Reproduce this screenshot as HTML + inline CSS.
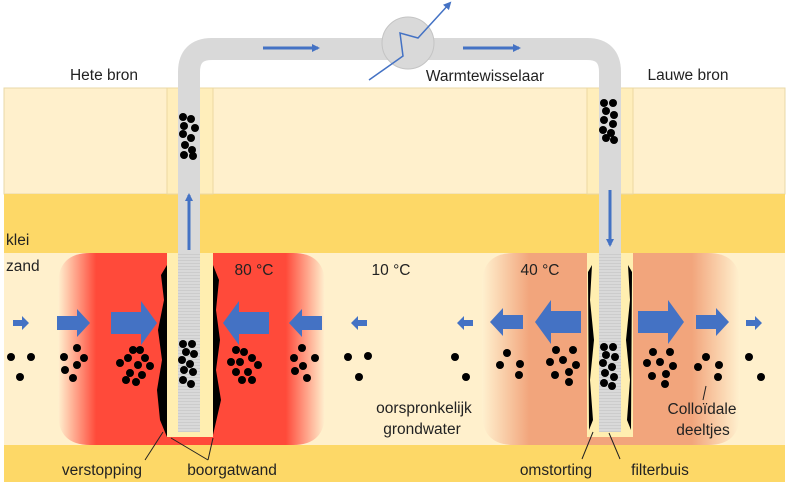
<!DOCTYPE html>
<html><head><meta charset="utf-8"><style>
body{margin:0;background:#fff}
svg{display:block}
text{font-family:"Liberation Sans",sans-serif;font-size:15.5px;fill:#222}
</style></head><body>
<svg width="789" height="489" viewBox="0 0 789 489" xmlns="http://www.w3.org/2000/svg">
<defs>
<linearGradient id="rl" x1="0" x2="1" y1="0" y2="0">
<stop offset="0" stop-color="#fff1cf"/><stop offset="0.35" stop-color="#ff4a3a"/><stop offset="1" stop-color="#ff4a3a"/></linearGradient>
<linearGradient id="rr" x1="1" x2="0" y1="0" y2="0">
<stop offset="0" stop-color="#fff1cf"/><stop offset="0.35" stop-color="#ff4a3a"/><stop offset="1" stop-color="#ff4a3a"/></linearGradient>
<linearGradient id="ol" x1="0" x2="1" y1="0" y2="0">
<stop offset="0" stop-color="#fff1cf"/><stop offset="0.45" stop-color="#f2a57c"/><stop offset="1" stop-color="#f2a57c"/></linearGradient>
<linearGradient id="or" x1="1" x2="0" y1="0" y2="0">
<stop offset="0" stop-color="#fff1cf"/><stop offset="0.45" stop-color="#f2a57c"/><stop offset="1" stop-color="#f2a57c"/></linearGradient>
<pattern id="filt" width="4" height="3" patternUnits="userSpaceOnUse">
<rect width="4" height="3" fill="#d9d9d9"/><rect y="2" width="4" height="1" fill="#cccccc"/></pattern>
<marker id="ah" markerWidth="8" markerHeight="8" refX="6" refY="4" orient="auto" markerUnits="userSpaceOnUse"><path d="M0,0 L8,4 L0,8z" fill="#4472c4"/></marker>
</defs>
<rect x="4" y="88" width="781" height="106" fill="#fff0cc" stroke="#e8d9a8" stroke-width="1"/>
<rect x="4" y="194" width="781" height="59" fill="#fdd867"/>
<rect x="4" y="253" width="781" height="192" fill="#fff0cc"/>
<rect x="4" y="445" width="781" height="37" fill="#fdd867"/>
<rect x="167" y="88" width="46" height="106" fill="#ffeebb" stroke="#ecd8a0"/>
<rect x="587" y="88" width="46" height="106" fill="#ffeebb" stroke="#ecd8a0"/>
<path d="M90,253 H167 V445 H90 Q58,445 58,413 V285 Q58,253 90,253z" fill="url(#rl)"/>
<path d="M213,253 H293 Q325,253 325,285 V413 Q325,445 293,445 H213z" fill="url(#rr)"/>
<rect x="167" y="437" width="46" height="8" fill="#ff4a3a"/>
<path d="M514,253 H587 V445 H514 Q482,445 482,413 V285 Q482,253 514,253z" fill="url(#ol)"/>
<path d="M633,253 H708 Q740,253 740,285 V413 Q740,445 708,445 H633z" fill="url(#or)"/>
<rect x="587" y="437" width="46" height="8" fill="#f2a57c"/>
<rect x="167" y="253" width="46" height="184" fill="#ffeeb0"/>
<rect x="587" y="253" width="46" height="184" fill="#ffeeb0"/>
<path d="M167,265 L161,275 L164,300 L158,330 L162,360 L157,390 L160,420 L167,437z" fill="#000"/>
<path d="M213,265 L219,280 L216,310 L220,340 L216,370 L221,400 L213,435z" fill="#000"/>
<path d="M592,265 L588,272 L589,430 L593,420 L590,380 L594,340 L590,300z" fill="#000"/>
<path d="M628,265 L632,272 L631,430 L627,420 L630,380 L626,340 L630,300z" fill="#000"/>
<path d="M189,253 V72 Q189,49 212,49 H587 Q610,49 610,72 V253" fill="none" stroke="#d9d9d9" stroke-width="22"/>
<rect x="178" y="253" width="22" height="179" fill="url(#filt)"/>
<rect x="599" y="253" width="22" height="179" fill="url(#filt)"/>
<circle cx="408" cy="43" r="26" fill="#d9d9d9" stroke="#c4c4c4"/>
<path d="M369,80 L403,56 L400,33 L418,38 L450,3" fill="none" stroke="#4472c4" stroke-width="1.5" marker-end="url(#ah)"/>
<line x1="263" y1="48" x2="318" y2="48" stroke="#4472c4" stroke-width="3" marker-end="url(#ah)"/>
<line x1="463" y1="48" x2="519" y2="48" stroke="#4472c4" stroke-width="3" marker-end="url(#ah)"/>
<line x1="189" y1="250" x2="189" y2="195" stroke="#4472c4" stroke-width="3" marker-end="url(#ah)"/>
<line x1="610" y1="190" x2="610" y2="245" stroke="#4472c4" stroke-width="3" marker-end="url(#ah)"/>
<g fill="#4472c4">
<path d="M13,320 h9 v-4 l7,7 l-7,7 v-4 h-9z"/>
<path d="M57,316 h20 v-7 l13,14 l-13,14 v-7 h-20z"/>
<path d="M111,312 h30 v-11 l16,22 l-16,22 v-11 h-30z"/>
<path d="M269,312 h-30 v-11 l-16,22 l16,22 v-11 h30z"/>
<path d="M322,316 h-20 v-7 l-13,14 l13,14 v-7 h20z"/>
<path d="M367,320 h-9 v-4 l-7,7 l7,7 v-4 h9z"/>
<path d="M473,320 h-9 v-4 l-7,7 l7,7 v-4 h9z"/>
<path d="M523,315 h-20 v-7 l-13,14 l13,14 v-7 h20z"/>
<path d="M581,311 h-30 v-11 l-16,22 l16,22 v-11 h30z"/>
<path d="M638,311 h30 v-11 l16,22 l-16,22 v-11 h-30z"/>
<path d="M696,315 h20 v-7 l13,14 l-13,14 v-7 h-20z"/>
<path d="M746,320 h9 v-4 l7,7 l-7,7 v-4 h-9z"/>
</g>
<g fill="#000">
<circle cx="11" cy="357" r="4"/><circle cx="31" cy="357" r="4"/><circle cx="20" cy="377" r="4"/>
<circle cx="77" cy="348" r="4"/><circle cx="64" cy="357" r="4"/><circle cx="84" cy="358" r="4"/><circle cx="77" cy="365" r="4"/><circle cx="65" cy="370" r="4"/><circle cx="73" cy="378" r="4"/>
<circle cx="120" cy="363" r="4"/><circle cx="128" cy="358" r="4"/><circle cx="133" cy="350" r="4"/><circle cx="140" cy="350" r="4"/><circle cx="145" cy="358" r="4"/><circle cx="150" cy="366" r="4"/><circle cx="138" cy="365" r="4"/><circle cx="130" cy="373" r="4"/><circle cx="142" cy="375" r="4"/><circle cx="126" cy="380" r="4"/><circle cx="136" cy="382" r="4"/>
<circle cx="236" cy="350" r="4"/><circle cx="244" cy="352" r="4"/><circle cx="231" cy="362" r="4"/><circle cx="240" cy="362" r="4"/><circle cx="252" cy="358" r="4"/><circle cx="258" cy="365" r="4"/><circle cx="236" cy="372" r="4"/><circle cx="248" cy="372" r="4"/><circle cx="242" cy="380" r="4"/><circle cx="252" cy="380" r="4"/>
<circle cx="302" cy="348" r="4"/><circle cx="294" cy="358" r="4"/><circle cx="315" cy="358" r="4"/><circle cx="303" cy="366" r="4"/><circle cx="295" cy="371" r="4"/><circle cx="307" cy="378" r="4"/>
<circle cx="348" cy="357" r="4"/><circle cx="368" cy="356" r="4"/><circle cx="359" cy="377" r="4"/>
<circle cx="455" cy="357" r="4"/><circle cx="466" cy="377" r="4"/>
<circle cx="507" cy="353" r="4"/><circle cx="500" cy="365" r="4"/><circle cx="520" cy="364" r="4"/><circle cx="519" cy="375" r="4"/>
<circle cx="556" cy="350" r="4"/><circle cx="573" cy="350" r="4"/><circle cx="550" cy="362" r="4"/><circle cx="563" cy="360" r="4"/><circle cx="576" cy="365" r="4"/><circle cx="555" cy="375" r="4"/><circle cx="569" cy="372" r="4"/><circle cx="569" cy="382" r="4"/>
<circle cx="653" cy="352" r="4"/><circle cx="670" cy="352" r="4"/><circle cx="647" cy="363" r="4"/><circle cx="660" cy="362" r="4"/><circle cx="673" cy="366" r="4"/><circle cx="652" cy="376" r="4"/><circle cx="666" cy="374" r="4"/><circle cx="665" cy="384" r="4"/>
<circle cx="706" cy="357" r="4"/><circle cx="698" cy="367" r="4"/><circle cx="719" cy="365" r="4"/><circle cx="718" cy="377" r="4"/>
<circle cx="749" cy="357" r="4"/><circle cx="761" cy="377" r="4"/>
</g>
<g fill="#000">
<circle cx="183" cy="117" r="4"/><circle cx="191" cy="119" r="4"/><circle cx="184" cy="126" r="4"/><circle cx="195" cy="128" r="4"/><circle cx="183" cy="134" r="4"/><circle cx="191" cy="138" r="4"/><circle cx="185" cy="145" r="4"/><circle cx="192" cy="150" r="4"/><circle cx="184" cy="155" r="4"/><circle cx="193" cy="156" r="4"/>
<circle cx="604" cy="103" r="4"/><circle cx="613" cy="103" r="4"/><circle cx="606" cy="111" r="4"/><circle cx="614" cy="115" r="4"/><circle cx="604" cy="120" r="4"/><circle cx="613" cy="124" r="4"/><circle cx="603" cy="130" r="4"/><circle cx="611" cy="133" r="4"/><circle cx="606" cy="138" r="4"/><circle cx="614" cy="140" r="4"/>
<circle cx="183" cy="344" r="4"/><circle cx="192" cy="344" r="4"/><circle cx="186" cy="352" r="4"/><circle cx="194" cy="354" r="4"/><circle cx="182" cy="360" r="4"/><circle cx="190" cy="364" r="4"/><circle cx="184" cy="370" r="4"/><circle cx="193" cy="372" r="4"/><circle cx="183" cy="380" r="4"/><circle cx="191" cy="384" r="4"/>
<circle cx="604" cy="347" r="4"/><circle cx="613" cy="347" r="4"/><circle cx="606" cy="355" r="4"/><circle cx="615" cy="357" r="4"/><circle cx="603" cy="363" r="4"/><circle cx="612" cy="367" r="4"/><circle cx="605" cy="373" r="4"/><circle cx="614" cy="377" r="4"/><circle cx="604" cy="383" r="4"/><circle cx="612" cy="386" r="4"/>
</g>
<g stroke="#222" stroke-width="1" fill="none">
<line x1="145" y1="460" x2="163" y2="432"/>
<line x1="208" y1="460" x2="171" y2="438"/>
<line x1="208" y1="460" x2="213" y2="438"/>
<line x1="582" y1="459" x2="593" y2="432"/>
<line x1="620" y1="459" x2="609" y2="433"/>
<line x1="703" y1="400" x2="706" y2="386"/>
</g>
<g text-anchor="middle">
<text x="104" y="80">Hete bron</text>
<text x="485" y="81">Warmtewisselaar</text>
<text x="688" y="80">Lauwe bron</text>
<text x="254" y="275">80 °C</text>
<text x="391" y="275">10 °C</text>
<text x="540" y="275">40 °C</text>
<text x="424" y="413">oorspronkelijk</text>
<text x="422" y="434">grondwater</text>
<text x="702" y="414">Colloïdale</text>
<text x="703" y="435">deeltjes</text>
<text x="102" y="475">verstopping</text>
<text x="232" y="475">boorgatwand</text>
<text x="556" y="475">omstorting</text>
<text x="660" y="475">filterbuis</text>
</g>
<text x="6" y="245">klei</text>
<text x="6" y="271">zand</text>
</svg>
</body></html>
